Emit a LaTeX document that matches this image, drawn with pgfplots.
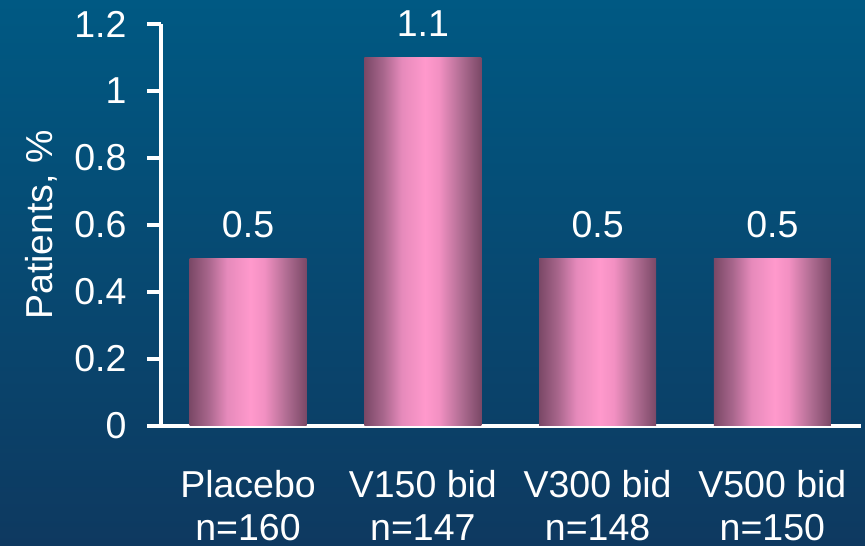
\documentclass[border=0pt]{standalone}
\usepackage{fontspec}
\setmainfont{Liberation Sans}
\usepackage{pgfplots}
\pgfplotsset{compat=1.18}
\definecolor{bgtop}{HTML}{005983}
\definecolor{bgbot}{HTML}{0E3960}
\definecolor{bedge}{HTML}{7A4866}
\definecolor{bA}{HTML}{A8668C}
\definecolor{bB}{HTML}{E68ABB}
\definecolor{bpink}{HTML}{FF99CC}
\definecolor{bC}{HTML}{F290C2}
\definecolor{bD}{HTML}{B26E94}
\definecolor{bedgeR}{HTML}{7A4866}
\pgfdeclarehorizontalshading{barshade}{100bp}{color(0bp)=(bedge); color(25bp)=(bedge); color(33bp)=(bA); color(41bp)=(bB); color(51bp)=(bpink); color(57bp)=(bC); color(66bp)=(bD); color(75bp)=(bedgeR); color(100bp)=(bedgeR)}
\pgfplotsset{
  mybar/.style={ybar, bar width=117pt, bar shift=0pt, draw=none, shade, shading=barshade,
    nodes near coords, nodes near coords style={text=white, anchor=south, yshift=17pt},
    point meta=explicit symbolic},
}
\begin{document}
\begin{tikzpicture}[font=\fontsize{37.5}{43}\selectfont]
\shade[top color=bgtop, bottom color=bgbot] (0,0) rectangle (865pt,546pt);
\begin{axis}[
  at={(161pt,120pt)}, anchor=south west,
  scale only axis, width=700pt, height=402pt,
  xmin=-0.498, xmax=3.507, ymin=0, ymax=1.2,
  axis x line=bottom, axis y line=left,
  axis line style={white, line width=3.5pt, -},
  tick align=outside,
  major tick length=14pt,
  tick style={white, line width=3.5pt},
  xtick={0,1,2,3},
  xtick style={/pgfplots/major tick length=0pt},
  xticklabels={{Placebo\\n=160},{V150 bid\\n=147},{V300 bid\\n=148},{V500 bid\\n=150}},
  xticklabel style={align=center, text=white, yshift=-27pt},
  ytick={0,0.2,0.4,0.6,0.8,1,1.2},
  yticklabel style={text=white, xshift=-17pt},
  /pgf/number format/assume math mode=true,
  ylabel={Patients, \%},
  ylabel style={text=white, yshift=10pt},
  clip=false,
]
\addplot[mybar] coordinates {(0,0.5)[0.5]};
\addplot[mybar] coordinates {(1,1.1)[1.1]};
\addplot[mybar] coordinates {(2,0.5)[0.5]};
\addplot[mybar] coordinates {(3,0.5)[0.5]};
\end{axis}
\pgfresetboundingbox
\path (0,0) rectangle (865pt,546pt);
\end{tikzpicture}
\end{document}
